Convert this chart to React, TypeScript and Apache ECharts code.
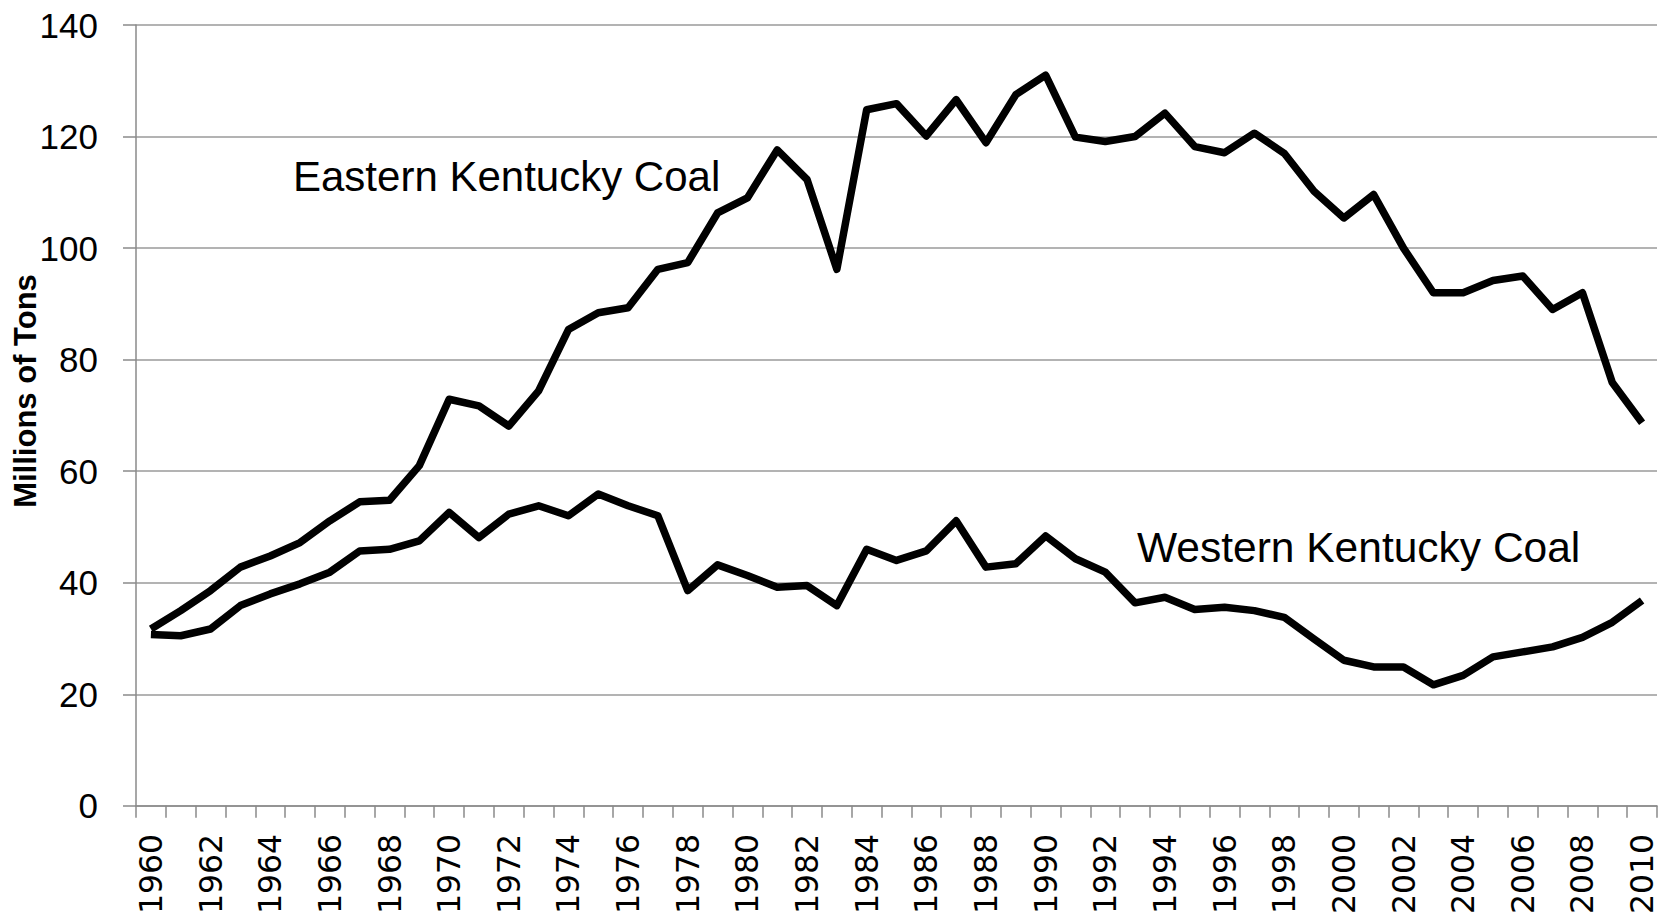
import React, { useEffect, useRef } from "react";
import * as echarts from "echarts";

const years: string[] = [];
for (let y = 1960; y <= 2010; y++) years.push(String(y));

const eastern = [
  31.7, 35.0, 38.6, 42.8, 44.8, 47.2, 51.1, 54.5, 54.8, 61.0,
  72.9, 71.7, 68.1, 74.4, 85.4, 88.4, 89.3, 96.2, 97.4, 106.3,
  109.0, 117.6, 112.3, 96.2, 124.8, 125.9, 120.1, 126.6, 118.9, 127.5,
  131.0, 119.9, 119.1, 120.0, 124.2, 118.2, 117.1, 120.6, 117.0, 110.2,
  105.4, 109.6, 100.0, 92.0, 92.0, 94.2, 95.0, 89.0, 92.0, 75.9, 68.7,
];

const western = [
  30.7, 30.5, 31.7, 35.9, 38.0, 39.8, 41.9, 45.7, 46.0, 47.5,
  52.6, 48.1, 52.3, 53.8, 52.0, 55.9, 53.8, 52.0, 38.6, 43.2,
  41.3, 39.2, 39.5, 35.9, 46.0, 44.0, 45.7, 51.1, 42.8, 43.4,
  48.4, 44.3, 41.9, 36.4, 37.4, 35.2, 35.6, 35.0, 33.8, 29.9,
  26.1, 24.9, 24.9, 21.7, 23.4, 26.7, 27.6, 28.5, 30.2, 32.9, 36.8,
];

const seriesNames = ["Eastern Kentucky Coal", "Western Kentucky Coal"];
const yAxisTitle = "Millions of Tons";

const FONT = "'Liberation Sans', Arial, sans-serif";
const XFONT = "'DejaVu Sans', Verdana, sans-serif";

export default function App() {
  const ref = useRef<HTMLDivElement>(null);
  useEffect(() => {
    document.body.style.margin = "0";
    const chart = echarts.init(ref.current!, null, { renderer: "svg" });
    chart.setOption({
      animation: false,
      backgroundColor: "#ffffff",
      grid: { left: 136, right: 7, top: 25, bottom: 110, containLabel: false },
      xAxis: {
        type: "category",
        data: years,
        boundaryGap: true,
        axisLine: { show: true, lineStyle: { color: "#8a8a8a", width: 1.5 } },
        axisTick: { show: true, interval: 0, length: 12, lineStyle: { color: "#8a8a8a", width: 1.5 } },
        axisLabel: {
          interval: 1,
          rotate: 90,
          margin: 28,
          color: "#000",
          fontFamily: XFONT,
          fontSize: 31.5,
        },
        splitLine: { show: false },
      },
      yAxis: {
        type: "value",
        min: 0,
        max: 140,
        interval: 20,
        axisLine: { show: true, lineStyle: { color: "#8a8a8a", width: 1.5 } },
        axisTick: { show: true, length: 13, lineStyle: { color: "#8a8a8a", width: 1.5 } },
        axisLabel: {
          margin: 38,
          color: "#000",
          fontFamily: FONT,
          fontSize: 35,
        },
        splitLine: { show: true, lineStyle: { color: "#9a9a9a", width: 1.5 } },
      },
      series: [
        {
          name: seriesNames[0],
          type: "line",
          data: eastern,
          symbol: "none",
          lineStyle: { color: "#000", width: 7.5, join: "round" },
        },
        {
          name: seriesNames[1],
          type: "line",
          data: western,
          symbol: "none",
          lineStyle: { color: "#000", width: 7.5, join: "round" },
        },
      ],
      graphic: [
        {
          type: "text",
          left: 293,
          top: 155,
          style: {
            text: seriesNames[0],
            fill: "#000",
            font: `42px ${FONT}`,
          },
        },
        {
          type: "text",
          left: 1137,
          top: 526,
          style: {
            text: seriesNames[1],
            fill: "#000",
            font: `42.5px ${FONT}`,
          },
        },
        {
          type: "text",
          x: 25,
          y: 391,
          rotation: Math.PI / 2,
          style: {
            text: yAxisTitle,
            fill: "#000",
            font: `bold 31px ${FONT}`,
            align: "center",
            verticalAlign: "middle",
          },
        },
      ],
    });
    return () => chart.dispose();
  }, []);
  return <div ref={ref} style={{ width: 1664, height: 917 }} />;
}
